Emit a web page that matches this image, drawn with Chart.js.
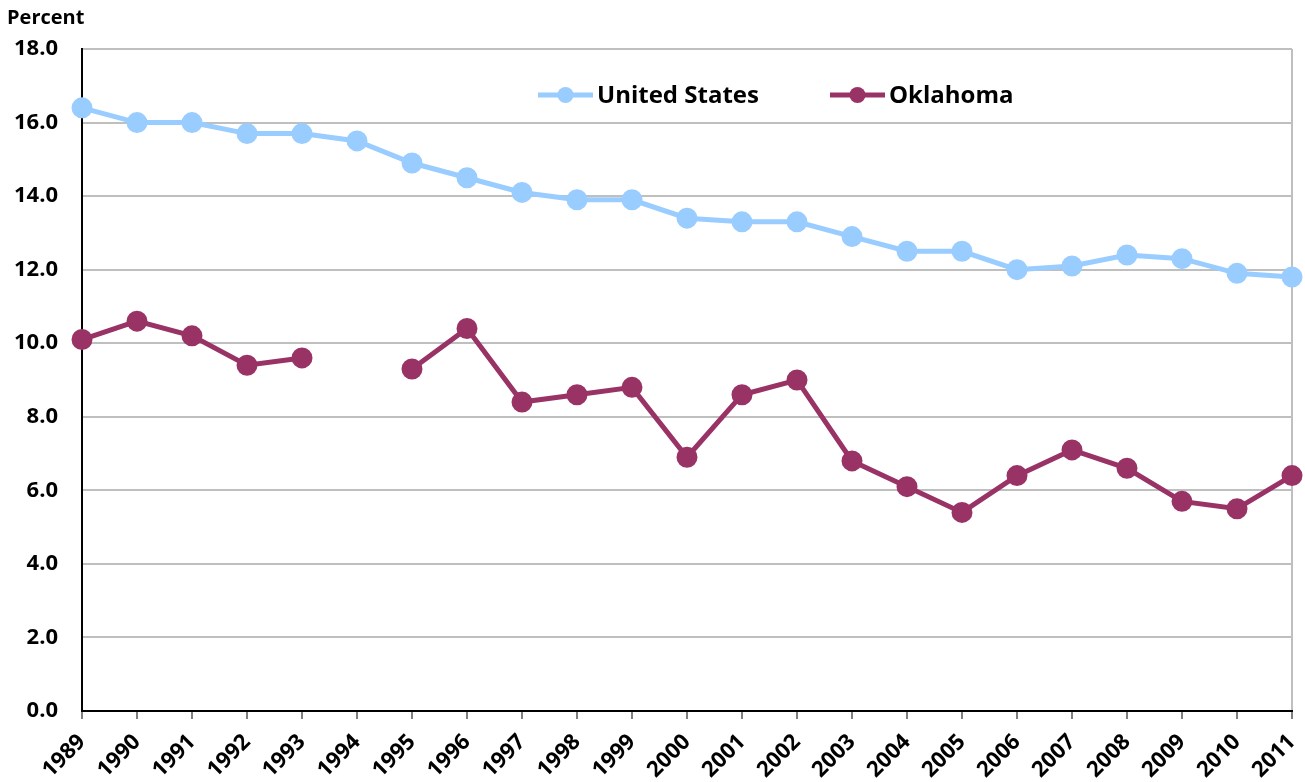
<!DOCTYPE html>
<html>
<head>
<meta charset="utf-8">
<script src="https://cdn.jsdelivr.net/npm/chart.js@4/dist/chart.umd.min.js"></script>
<style>
  html, body { margin: 0; padding: 0; background: #fff; }
  #wrap { position: relative; width: 1305px; height: 782px; }
</style>
</head>
<body>
<div id="wrap"><canvas id="c" width="1305" height="782"></canvas></div>
<script>
const years = ['1989','1990','1991','1992','1993','1994','1995','1996','1997','1998','1999','2000','2001','2002','2003','2004','2005','2006','2007','2008','2009','2010','2011'];
const unitedStates = [16.4,16.0,16.0,15.7,15.7,15.5,14.9,14.5,14.1,13.9,13.9,13.4,13.3,13.3,12.9,12.5,12.5,12.0,12.1,12.4,12.3,11.9,11.8];
const oklahoma = [10.1,10.6,10.2,9.4,9.6,null,9.3,10.4,8.4,8.6,8.8,6.9,8.6,9.0,6.8,6.1,5.4,6.4,7.1,6.6,5.7,5.5,6.4];
const yTicks = [0,2,4,6,8,10,12,14,16,18];
const axisTitle = 'Percent';

const FONT = '"Open Sans", "DejaVu Sans", sans-serif';

const extras = {
  id: 'extras',
  afterDraw(chart) {
    const ctx = chart.ctx;
    ctx.save();
    ctx.font = 'bold 20px ' + FONT;
    ctx.fillStyle = '#000';
    ctx.textAlign = 'left';
    ctx.textBaseline = 'middle';
    ctx.fillText(axisTitle, 7, 18);
    const items = [
      { ds: chart.data.datasets[0], x: 538 },
      { ds: chart.data.datasets[1], x: 830 }
    ];
    const y = 95;
    items.forEach(it => {
      ctx.strokeStyle = it.ds.borderColor;
      ctx.lineWidth = 5;
      ctx.beginPath();
      ctx.moveTo(it.x, y);
      ctx.lineTo(it.x + 55, y);
      ctx.stroke();
      ctx.fillStyle = it.ds.pointBackgroundColor;
      ctx.beginPath();
      ctx.arc(it.x + 27.5, y, 8, 0, Math.PI * 2);
      ctx.fill();
      ctx.fillStyle = '#000';
      ctx.font = 'bold 24px ' + FONT;
      ctx.textAlign = 'left';
      ctx.textBaseline = 'middle';
      ctx.fillText(it.ds.label, it.x + 59, y + 1);
    });
    ctx.restore();
  }
};

new Chart(document.getElementById('c'), {
  type: 'line',
  data: {
    labels: years,
    datasets: [
      {
        label: 'United States',
        data: unitedStates,
        borderColor: '#99CCFF',
        backgroundColor: '#99CCFF',
        pointBackgroundColor: '#99CCFF',
        pointBorderColor: '#99CCFF',
        borderWidth: 5,
        pointRadius: 8,
        pointHoverRadius: 8,
        tension: 0,
        spanGaps: false
      },
      {
        label: 'Oklahoma',
        data: oklahoma,
        borderColor: '#993366',
        backgroundColor: '#993366',
        pointBackgroundColor: '#993366',
        pointBorderColor: '#993366',
        borderWidth: 5,
        pointRadius: 8,
        pointHoverRadius: 8,
        tension: 0,
        spanGaps: false
      }
    ]
  },
  options: {
    responsive: false,
    animation: false,
    events: [],
    layout: { padding: { top: 49, right: 12, left: 0, bottom: 0 } },
    plugins: {
      legend: { display: false },
      tooltip: { enabled: false },
      title: { display: false }
    },
    scales: {
      x: {
        offset: false,
        afterFit(scale) { scale.height = 71; scale.paddingRight = 0; scale.paddingLeft = 0; },
        grid: {
          drawOnChartArea: true,
          drawTicks: true,
          tickLength: 8,
          color: (c) => (c.index === years.length - 1 ? '#BFBFBF' : 'rgba(0,0,0,0)'),
          tickColor: '#808080',
          lineWidth: 2
        },
        border: { color: '#000', width: 2 },
        ticks: {
          autoSkip: false,
          minRotation: 45,
          maxRotation: 45,
          padding: 10,
          color: '#000',
          font: { family: FONT, size: 22, weight: 'bold' }
        }
      },
      y: {
        min: 0,
        max: 18,
        afterFit(scale) { scale.width = 82; },
        afterBuildTicks(scale) { scale.ticks = yTicks.map(v => ({ value: v })); },
        grid: {
          drawTicks: false,
          color: '#BFBFBF',
          lineWidth: 2
        },
        border: { color: '#000', width: 2 },
        ticks: {
          padding: 24,
          color: '#000',
          font: { family: FONT, size: 22, weight: 'bold' },
          callback: (v) => Number(v).toFixed(1)
        }
      }
    }
  },
  plugins: [extras]
});
</script>
</body>
</html>
